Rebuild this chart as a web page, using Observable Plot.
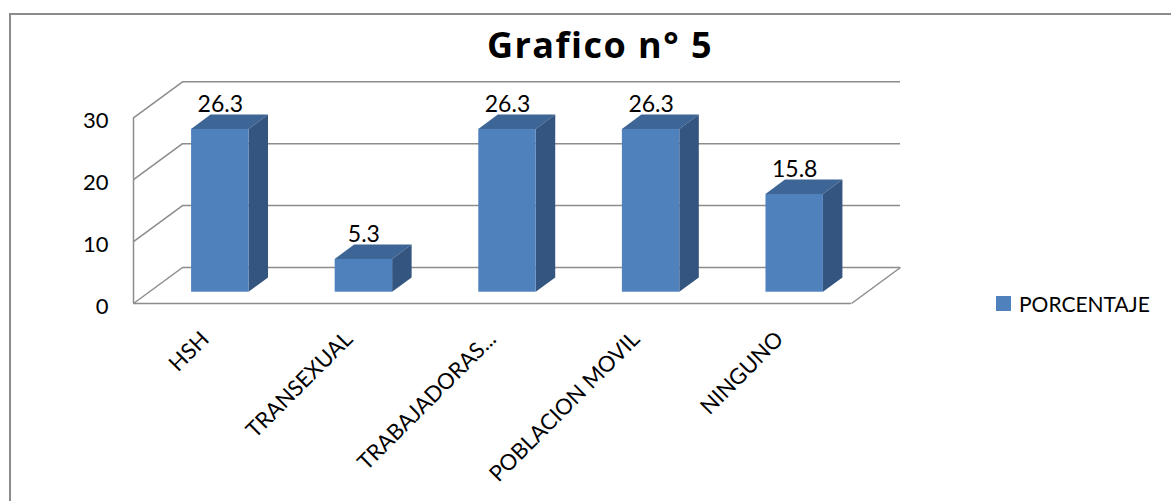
<!DOCTYPE html>
<html>
<head>
<meta charset="utf-8">
<script src="https://cdn.jsdelivr.net/npm/d3@7"></script>
<script src="https://cdn.jsdelivr.net/npm/@observablehq/plot@0.6"></script>
<style>
  html, body { margin: 0; padding: 0; background: #fff; }
  body { width: 1171px; height: 501px; overflow: hidden; position: relative; font-family: Lato, "Open Sans", sans-serif; }
  #frame { position: absolute; left: 9px; top: 13px; width: 1300px; height: 700px; border: 2px solid #8c8c8c; box-sizing: border-box; }
  #title { position: absolute; left: 0; top: 27px; width: 1200px; text-align: center; font: 700 36px "Open Sans", sans-serif; letter-spacing: 1.5px; line-height: 36px; color: #000; }
  #chart { position: absolute; left: 0; top: 60px; }
  #legend { position: absolute; left: 996px; top: 291px; display: flex; align-items: center; font: 21px Lato, sans-serif; color: #000; }
  #legend .sw { width: 15px; height: 15px; background: #4f81bd; margin-right: 8px; }
</style>
</head>
<body>
<div id="frame"></div>
<div id="title"></div>
<div id="chart"></div>
<div id="legend"><span class="sw"></span><span class="lbl"></span></div>
<script>
// Chart content
const titleText = "Grafico n° 5";
const seriesName = "PORCENTAJE";
const categories = ["HSH", "TRANSEXUAL", "TRABAJADORAS...", "POBLACION MOVIL", "NINGUNO"];
const porcentaje = [26.3, 5.3, 26.3, 26.3, 15.8];
const yTicks = [0, 10, 20, 30];

// Colours of the three visible faces of each column
const frontColor = "#4f81bd";
const sideColor = "#34557f";
const topColor = "#3d6595";
const gridColor = "#8c8c8c";

// Plot area of the front plane (pixels inside the SVG)
const W = 1171, H = 441;
const xRange = [133, 851];
const yRange = [243, 57.3];
const yMax = d3.max(yTicks);
const nCat = categories.length;

const pxPerX = (xRange[1] - xRange[0]) / nCat;
const pxPerY = (yRange[0] - yRange[1]) / yMax;

// Perspective offsets: back wall, column front plane, column depth
const wall = {dx: 49, dy: -36};
const front = {dx: 15, dy: -11.3};
const depth = {dx: 19.5, dy: -14.3};

const wallU = {x: wall.dx / pxPerX, y: -wall.dy / pxPerY};
const depthU = {x: depth.dx / pxPerX, y: -depth.dy / pxPerY};

const bars = categories.map((c, i) => ({c, i, v: porcentaje[i], x1: i + 0.3, x2: i + 0.7}));

// Right-hand face of each column as a parallelogram
const sidePts = bars.flatMap(b => [
  {i: b.i, x: b.x2, y1: 0, y2: b.v},
  {i: b.i, x: b.x2 + depthU.x, y1: depthU.y, y2: b.v + depthU.y}
]);
// Top face of each column
const topPts = bars.flatMap(b => [
  {i: b.i, y: b.v, x1: b.x1, x2: b.x2},
  {i: b.i, y: b.v + depthU.y, x1: b.x1 + depthU.x, x2: b.x2 + depthU.x}
]);

const font = {fontFamily: "Lato, sans-serif", fontSize: 22, fill: "#000"};
const grid = {stroke: gridColor, strokeWidth: 1.5};

const chart = Plot.plot({
  width: W,
  height: H,
  x: {type: "linear", domain: [0, nCat], range: xRange, axis: null},
  y: {type: "linear", domain: [0, yMax], range: yRange, axis: null},
  style: {background: "transparent", overflow: "visible"},
  marks: [
    // back wall gridlines
    Plot.ruleY(yTicks, {x1: () => 0, x2: () => nCat, dx: wall.dx, dy: wall.dy, ...grid}),
    // side wall lines joining the front axis to the back wall
    Plot.link(yTicks, {x1: () => 0, y1: d => d, x2: () => wallU.x, y2: d => d + wallU.y, ...grid}),
    // front vertical edge of the side wall
    Plot.ruleX([0], {y1: 0, y2: yMax, ...grid}),
    // floor: front edge and right edge
    Plot.ruleY([0], {x1: () => 0, x2: () => nCat, ...grid}),
    Plot.link([nCat], {x1: d => d, y1: () => 0, x2: d => d + wallU.x, y2: () => wallU.y, ...grid}),
    // columns
    Plot.area(topPts, {y1: "y", x1: "x1", x2: "x2", z: "i", fill: topColor, dx: front.dx, dy: front.dy}),
    Plot.area(sidePts, {x1: "x", y1: "y1", y2: "y2", z: "i", fill: sideColor, dx: front.dx, dy: front.dy}),
    Plot.rect(bars, {x1: "x1", x2: "x2", y1: () => 0, y2: "v", fill: frontColor, dx: front.dx, dy: front.dy}),
    // value labels
    Plot.text(bars, {x: b => b.i + 0.5, y: "v", text: b => String(b.v), lineAnchor: "bottom", dx: front.dx, dy: front.dy - 17, ...font, fontSize: 23}),
    // value axis tick labels
    Plot.text(yTicks, {x: () => 0, y: d => d, text: d => String(d), textAnchor: "end", dx: -25, dy: 3, ...font}),
    // category labels
    Plot.text(bars, {x: b => b.i + 0.5, y: () => 0, text: "c", rotate: -45, textAnchor: "end", lineAnchor: "bottom", dx: 5, dy: 37, ...font})
  ]
});

document.getElementById("chart").appendChild(chart);
document.getElementById("title").textContent = titleText;
document.querySelector("#legend .lbl").textContent = seriesName;
</script>
</body>
</html>
